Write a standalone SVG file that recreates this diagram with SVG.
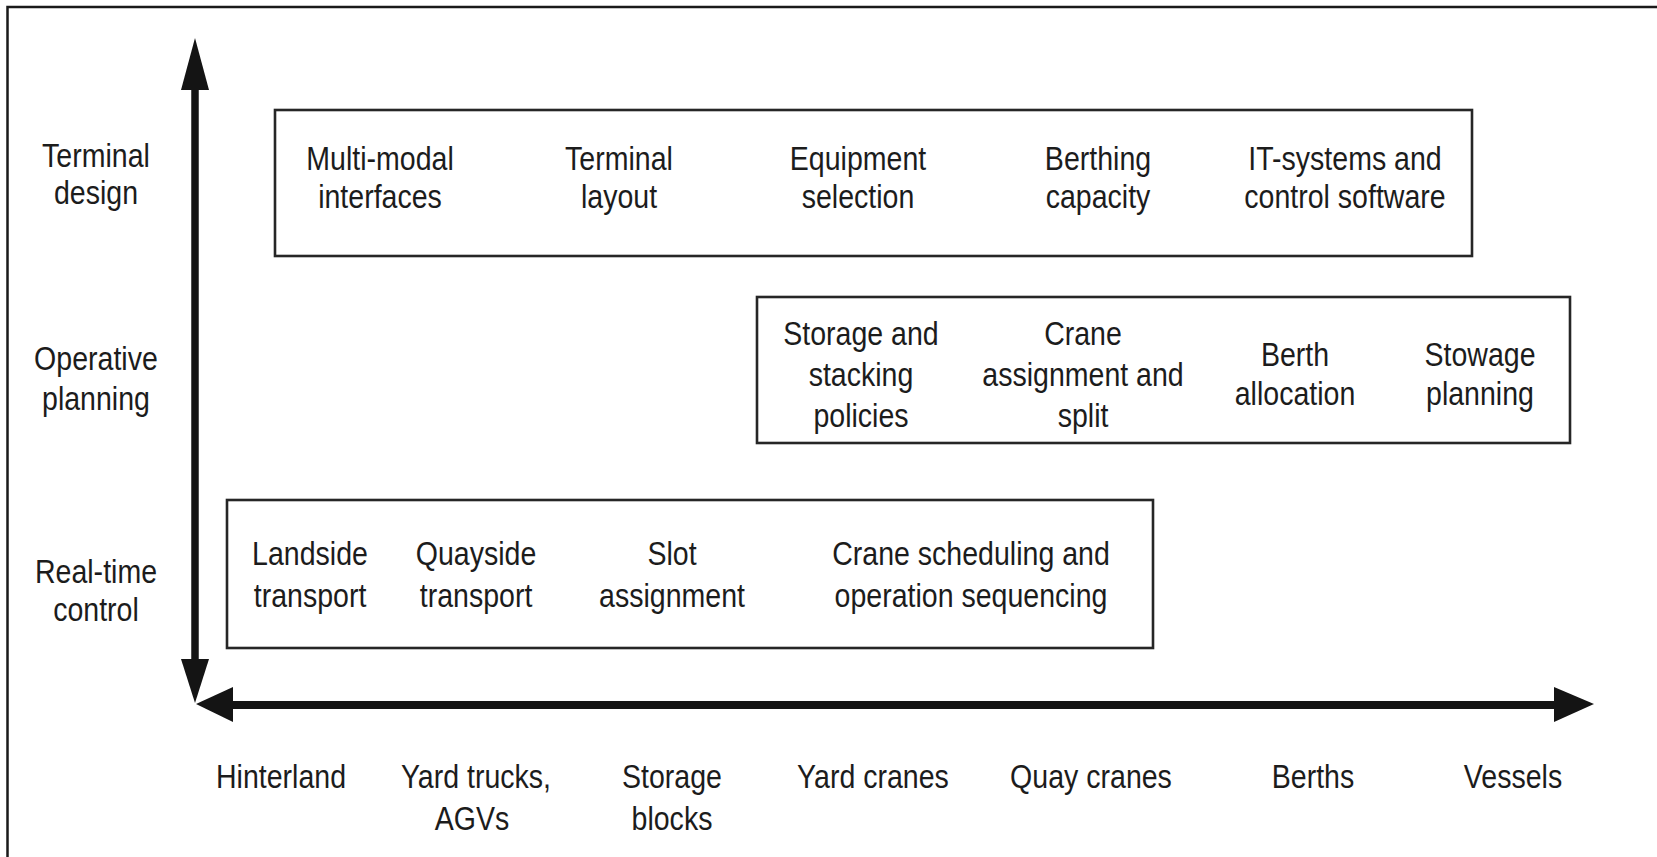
<svg xmlns="http://www.w3.org/2000/svg" width="1657" height="857" viewBox="0 0 1657 857">
  <style>
    .frame { fill: none; stroke: #1a1a1a; stroke-width: 2.5; }
    .box { fill: none; stroke: #262626; stroke-width: 2.6; }
    .axis { stroke: #141414; stroke-width: 7.5; fill: none; }
    .head { fill: #141414; stroke: none; }
    text { font-family: "Liberation Sans", Arial, Helvetica, sans-serif; font-size: 33px; fill: #1c1c1c; text-anchor: middle;
           transform-box: fill-box; transform-origin: center; transform: scaleX(0.865); }
  </style>

  <rect width="1657" height="857" fill="#ffffff"/>
  <!-- outer frame, open to the right and bottom -->
  <rect class="frame" x="7.5" y="7" width="1700" height="900"/>

  <!-- axes -->
  <g id="connectors">
    <line class="axis" x1="195" y1="86" x2="195" y2="664"/>
    <polygon class="head" points="195,38 181,90 209,90"/>
    <polygon class="head" points="195,703 181,659 209,659"/>
    <line class="axis" x1="228" y1="705" x2="1558" y2="705" style="stroke-width:8"/>
    <polygon class="head" points="196,704 233,687 233,722"/>
    <polygon class="head" points="1594,704 1554,687 1554,722"/>
  </g>

  <!-- level labels on the vertical axis -->
  <g id="level-terminal-design">
    <text x="96" y="167">Terminal</text>
    <text x="96" y="204">design</text>
  </g>
  <g id="level-operative-planning">
    <text x="96" y="370">Operative</text>
    <text x="96" y="410">planning</text>
  </g>
  <g id="level-real-time-control">
    <text x="96" y="583">Real-time</text>
    <text x="96" y="621">control</text>
  </g>

  <!-- terminal design decisions -->
  <g id="box-terminal-design">
    <rect class="box" x="275" y="110" width="1197" height="146"/>
    <text x="380" y="170">Multi-modal</text>
    <text x="380" y="208">interfaces</text>
    <text x="619" y="170">Terminal</text>
    <text x="619" y="208">layout</text>
    <text x="858" y="170">Equipment</text>
    <text x="858" y="208">selection</text>
    <text x="1098" y="170">Berthing</text>
    <text x="1098" y="208">capacity</text>
    <text x="1345" y="170">IT-systems and</text>
    <text x="1345" y="208">control software</text>
  </g>

  <!-- operative planning problems -->
  <g id="box-operative-planning">
    <rect class="box" x="757" y="297" width="813" height="146"/>
    <text x="861" y="345">Storage and</text>
    <text x="861" y="386">stacking</text>
    <text x="861" y="427">policies</text>
    <text x="1083" y="345">Crane</text>
    <text x="1083" y="386">assignment and</text>
    <text x="1083" y="427">split</text>
    <text x="1295" y="366">Berth</text>
    <text x="1295" y="405">allocation</text>
    <text x="1480" y="366">Stowage</text>
    <text x="1480" y="405">planning</text>
  </g>

  <!-- real-time control problems -->
  <g id="box-real-time-control">
    <rect class="box" x="227" y="500" width="926" height="148"/>
    <text x="310" y="565">Landside</text>
    <text x="310" y="607">transport</text>
    <text x="476" y="565">Quayside</text>
    <text x="476" y="607">transport</text>
    <text x="672" y="565">Slot</text>
    <text x="672" y="607">assignment</text>
    <text x="971" y="565">Crane scheduling and</text>
    <text x="971" y="607">operation sequencing</text>
  </g>

  <!-- terminal areas along the horizontal axis -->
  <g id="area-hinterland"><text x="281" y="788">Hinterland</text></g>
  <g id="area-yard-trucks">
    <text x="476" y="788">Yard trucks,</text>
    <text x="472" y="830">AGVs</text>
  </g>
  <g id="area-storage-blocks">
    <text x="672" y="788">Storage</text>
    <text x="672" y="830">blocks</text>
  </g>
  <g id="area-yard-cranes"><text x="873" y="788">Yard cranes</text></g>
  <g id="area-quay-cranes"><text x="1091" y="788">Quay cranes</text></g>
  <g id="area-berths"><text x="1313" y="788">Berths</text></g>
  <g id="area-vessels"><text x="1513" y="788">Vessels</text></g>
</svg>
